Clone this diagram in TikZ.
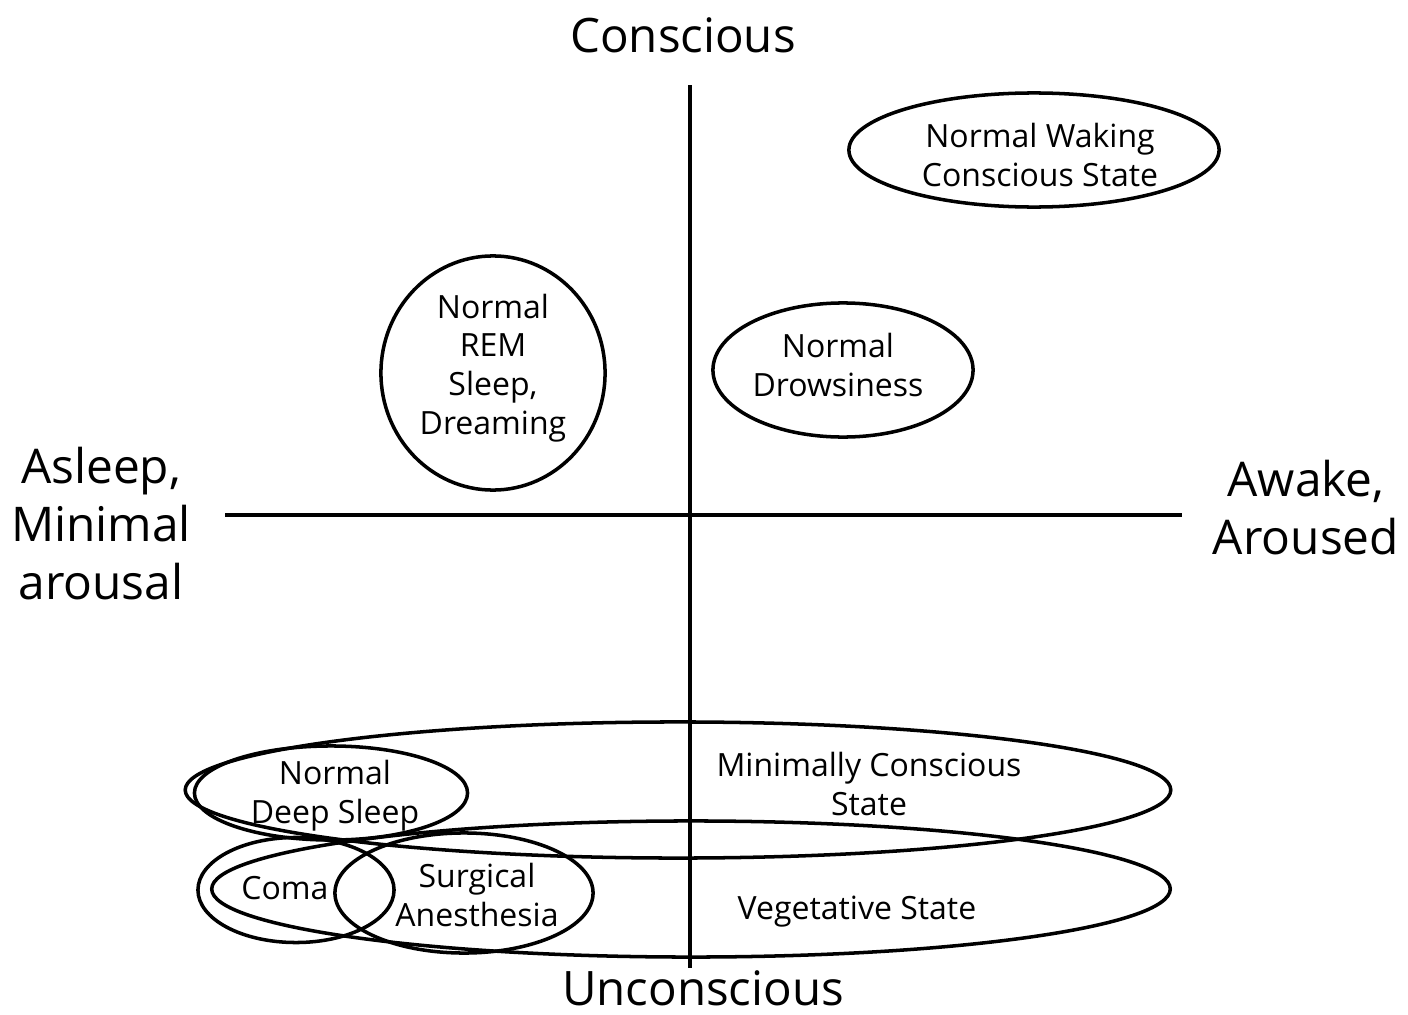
\documentclass[tikz,border=0pt]{standalone}
\usepackage{fontspec}
\setmainfont{Open Sans}
\usetikzlibrary{shapes.geometric,positioning}
\tikzset{
  axisline/.style={line width=1.35pt, draw=black},
  state/.style={ellipse, draw=black, line width=1pt, inner sep=0pt},
  statetext/.style={align=center, font=\fontsize{9.1}{11}\selectfont},
  axislabel/.style={inner sep=0pt, font=\fontsize{13.5}{16}\selectfont},
  sidelabel/.style={align=center, font=\fontsize{13.6}{16.5}\selectfont},
}

\begin{document}
\begin{tikzpicture}[x=0.01cm, y=-0.01cm]
    \useasboundingbox (0,0) rectangle (1408,1015);
    % axes
    \coordinate (top) at (690,85);
    \coordinate (bot) at (690,968);
    \coordinate (lft) at (225,515);
    \coordinate (rgt) at (1182,515);
    \draw[axisline] (top) -- (bot);
    \draw[axisline] (lft) -- (rgt);
    \node[axislabel] (cons) at (683,35) {Conscious};
    \node[axislabel] (uncons) at (703,988) {Unconscious};
    \node[sidelabel] (asleep) at (101,524) {Asleep,\\ Minimal\\ arousal};
    \node[sidelabel] (awake) at (1306,508) {Awake,\\ Aroused};
    % upper states
    \node[state, minimum width=3.70cm, minimum height=1.14cm] (waking) at (1034,150) {};
    \node[statetext] (wakingt) at (1040,155) {Normal Waking\\ Conscious State};
    \node[state, minimum width=2.24cm, minimum height=2.34cm] (rem) at (493,373) {};
    \node[statetext] (remt) at (493,368) {Normal\\ REM\\ Sleep,\\ Dreaming};
    \node[state, minimum width=2.60cm, minimum height=1.34cm] (drowsy) at (843,370) {};
    \node[statetext] (drowsyt) at (838,365) {Normal\\ Drowsiness};
    % lower states
    \node[state, minimum width=9.85cm, minimum height=1.36cm] (mcs) at (678,790) {};
    \node[statetext] (mcst) at (869,784) {Minimally Conscious\\ State};
    \node[state, minimum width=9.58cm, minimum height=1.36cm] (veg) at (691,889) {};
    \node[statetext] (vegt) at (857,912) {Vegetative State};
    \node[state, minimum width=2.73cm, minimum height=0.94cm] (deep) at (331,793) {};
    \node[statetext] (deept) at (335,796) {Normal\\ Deep Sleep};
    \node[state, minimum width=1.96cm, minimum height=1.05cm] (coma) at (296,890) {};
    \node[statetext] (comat) at (285,888) {Coma};
    \node[state, minimum width=2.58cm, minimum height=1.20cm] (surg) at (464,893) {};
    \node[statetext] (surgt) at (477,895) {Surgical\\ Anesthesia};
\end{tikzpicture}
\end{document}
